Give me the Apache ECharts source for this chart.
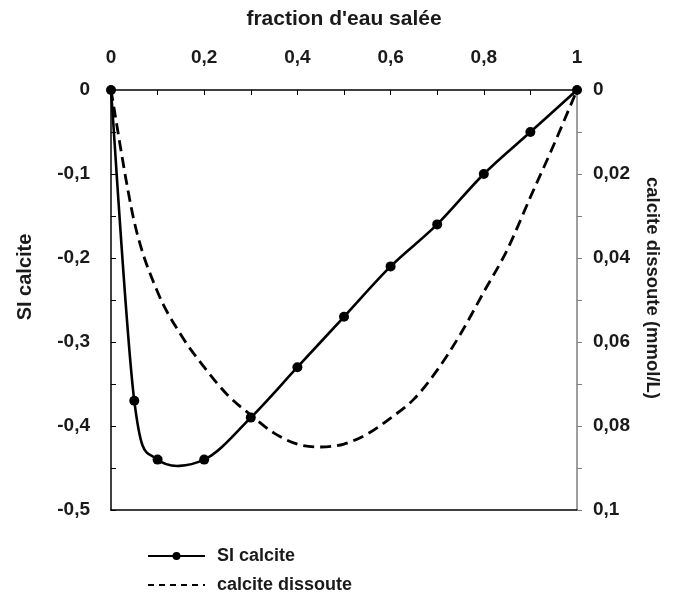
<!DOCTYPE html>
<html>
<head>
<meta charset="utf-8">
<script src="https://cdn.jsdelivr.net/npm/echarts@6/dist/echarts.min.js"></script>
<style>html,body{margin:0;padding:0;background:#fff}#c{width:673px;height:595px}</style>
</head>
<body>
<div id="c"></div>
<script>
const siX = [0, 0.05, 0.1, 0.2, 0.3, 0.4, 0.5, 0.6, 0.7, 0.8, 0.9, 1];
const siCalcite = [0, -0.37, -0.44, -0.44, -0.39, -0.33, -0.27, -0.21, -0.16, -0.10, -0.05, 0];
const dissX = [0, 0.05, 0.1, 0.15, 0.2, 0.25, 0.3, 0.35, 0.4, 0.45, 0.5, 0.55, 0.6, 0.65, 0.7, 0.75, 0.8, 0.85, 0.9, 0.95, 1];
const calciteDissoute = [0, 0.0314, 0.0481, 0.0583, 0.066, 0.0726, 0.0774, 0.0817, 0.0843, 0.085, 0.0843, 0.0819, 0.0781, 0.0736, 0.0667, 0.0581, 0.0481, 0.0381, 0.0255, 0.0131, 0];
const seriesNames = ['SI calcite', 'calcite dissoute'];
const xName = "fraction d'eau salée";
const yLeftName = 'SI calcite';
const yRightName = 'calcite dissoute (mmol/L)';

const FONT = '"Liberation Sans", Arial, sans-serif';
const fmt = v => String(+(+v).toFixed(3)).replace('.', ',');
const lbl = {fontFamily: FONT, fontWeight: 'bold', fontSize: 19, color: '#1a1a1a'};

// Smooth (Excel-like) curve through the data points, positioned with the axes' own scales
function smoothPath(xs, ys, api) {
  const n = xs.length;
  const P = j => api.coord([xs[Math.max(0, Math.min(n - 1, j))], ys[Math.max(0, Math.min(n - 1, j))]]);
  const k = 1 / 6;
  const s = P(0);
  let d = 'M' + s[0] + ' ' + s[1];
  for (let i = 0; i < n - 1; i++) {
    const p0 = P(i - 1), p1 = P(i), p2 = P(i + 1), p3 = P(i + 2);
    const c1x = p1[0] + (p2[0] - p0[0]) * k, c1y = p1[1] + (p2[1] - p0[1]) * k;
    const c2x = p2[0] - (p3[0] - p1[0]) * k, c2y = p2[1] - (p3[1] - p1[1]) * k;
    d += ' C' + c1x + ' ' + c1y + ' ' + c2x + ' ' + c2y + ' ' + p2[0] + ' ' + p2[1];
  }
  return d;
}
function curveSeries(xs, ys, yAxisIndex, dash, width, z) {
  return {
    type: 'custom', coordinateSystem: 'cartesian2d', xAxisIndex: 0, yAxisIndex: yAxisIndex,
    data: xs.map((x, i) => [x, ys[i]]), encode: {x: 0, y: 1}, z: z, silent: true,
    renderItem: function (params, api) {
      if (params.dataIndex !== 0) return null;
      return {
        type: 'path',
        shape: {pathData: smoothPath(xs, ys, api)},
        style: {stroke: '#000', lineWidth: width, fill: 'none', lineDash: dash}
      };
    }
  };
}

const chart = echarts.init(document.getElementById('c'), null, {renderer: 'canvas'});
chart.setOption({
  backgroundColor: '#fff',
  animation: false,
  grid: {left: 111, right: 96, top: 90, bottom: 85},
  legend: {
    orient: 'vertical', left: 147, top: 547, padding: 0, itemWidth: 57, itemHeight: 10, itemGap: 11,
    textStyle: {fontFamily: FONT, fontWeight: 'bold', fontSize: 18, color: '#1a1a1a', padding: [0, 0, 0, 7]},
    data: [
      {name: seriesNames[0], lineStyle: {color: '#000', width: 2, opacity: 1, type: 'solid'}},
      {name: seriesNames[1], lineStyle: {color: '#000', width: 2, opacity: 1, type: [6, 5]}, itemStyle: {opacity: 0}}
    ]
  },
  graphic: [
    {type: 'text', x: 25, y: 277, rotation: Math.PI / 2,
     style: {text: yLeftName, fontFamily: FONT, fontWeight: 'bold', fontSize: 20, fill: '#1a1a1a', textAlign: 'center', textVerticalAlign: 'middle'}},
    {type: 'text', x: 652, y: 288, rotation: -Math.PI / 2,
     style: {text: yRightName, fontFamily: FONT, fontWeight: 'bold', fontSize: 18.5, fill: '#1a1a1a', textAlign: 'center', textVerticalAlign: 'middle'}}
  ],
  xAxis: [{
    type: 'value', position: 'top', min: 0, max: 1, interval: 0.2,
    name: xName, nameLocation: 'middle', nameGap: 60,
    nameTextStyle: {fontFamily: FONT, fontWeight: 'bold', fontSize: 21, color: '#1a1a1a'},
    axisLine: {show: true, onZero: false, lineStyle: {color: '#000', width: 1.5}},
    axisTick: {show: true, inside: true, length: 5, lineStyle: {color: '#000', width: 1}},
    minorTick: {show: true, splitNumber: 2, length: 5, lineStyle: {color: '#000', width: 1}},
    splitLine: {show: false},
    axisLabel: Object.assign({margin: 23, formatter: fmt}, lbl)
  }, {
    type: 'value', position: 'bottom', min: 0, max: 1,
    axisLine: {show: true, onZero: false, lineStyle: {color: '#000', width: 1.5}},
    axisTick: {show: false}, axisLabel: {show: false}, splitLine: {show: false}
  }],
  yAxis: [{
    type: 'value', position: 'left', min: -0.5, max: 0, interval: 0.1,
    axisLine: {show: true, onZero: false, lineStyle: {color: '#000', width: 1.5}},
    axisTick: {show: true, inside: true, length: 5, lineStyle: {color: '#000', width: 1}},
    minorTick: {show: true, splitNumber: 2, length: 5, lineStyle: {color: '#000', width: 1}},
    splitLine: {show: false},
    axisLabel: Object.assign({margin: 21, formatter: fmt}, lbl)
  }, {
    type: 'value', position: 'right', min: 0, max: 0.1, interval: 0.02, inverse: true,
    axisLine: {show: true, onZero: false, lineStyle: {color: '#7f7f7f', width: 1.5}},
    axisTick: {show: true, inside: false, length: 5, lineStyle: {color: '#7f7f7f', width: 1}},
    minorTick: {show: true, splitNumber: 2, length: 5, lineStyle: {color: '#7f7f7f', width: 1}},
    splitLine: {show: false},
    axisLabel: Object.assign({margin: 16, formatter: fmt}, lbl)
  }],
  series: [{
    name: seriesNames[0], type: 'line', xAxisIndex: 0, yAxisIndex: 0,
    data: siX.map((x, i) => [x, siCalcite[i]]),
    symbol: 'circle', symbolSize: 10,
    lineStyle: {color: '#000', width: 2.5, opacity: 0}, itemStyle: {color: '#000'}, z: 4
  }, {
    name: seriesNames[1], type: 'line', xAxisIndex: 0, yAxisIndex: 1,
    data: dissX.map((x, i) => [x, calciteDissoute[i]]),
    symbol: 'none', showSymbol: false,
    lineStyle: {color: '#000', width: 2.5, type: [11, 6], opacity: 0}, itemStyle: {color: '#000'}, z: 2
  },
  curveSeries(siX, siCalcite, 0, null, 2.6, 3),
  curveSeries(dissX, calciteDissoute, 1, [11, 6], 2.8, 2)
  ]
});
</script>
</body>
</html>
